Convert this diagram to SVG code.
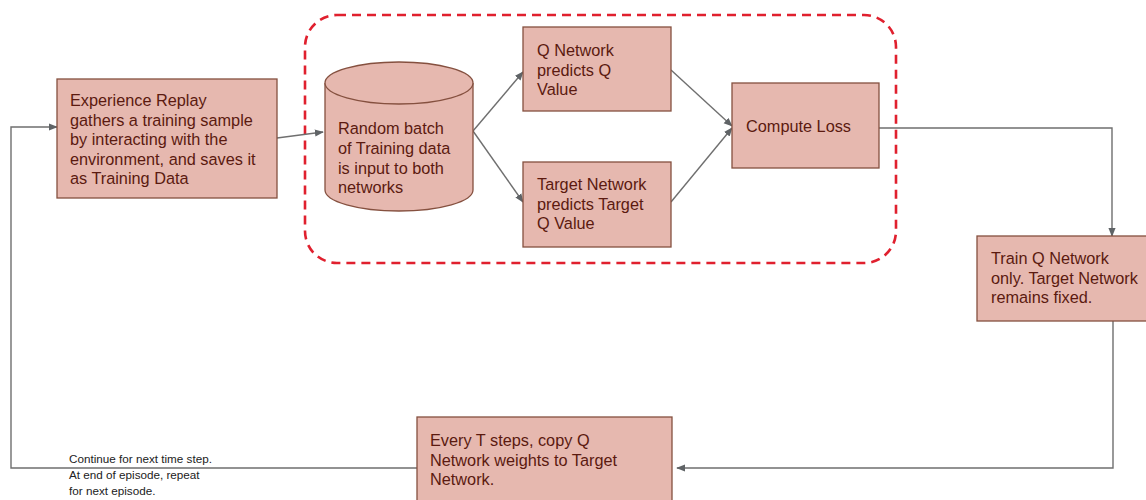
<svg xmlns="http://www.w3.org/2000/svg" width="1146" height="500" viewBox="0 0 1146 500">
<defs>
<style>
.box{fill:#e6b8af;stroke:#85503f;stroke-width:1.3}
.t{font-family:"Liberation Sans",Arial,sans-serif;font-size:16.3px;fill:#5b1a10}
.small{font-family:"Liberation Sans",Arial,sans-serif;font-size:11.7px;fill:#222}
.c{fill:none;stroke:#6f6f6f;stroke-width:1.4}
</style>
<marker id="ah" viewBox="0 0 10 10" refX="9" refY="5" markerWidth="9" markerHeight="9" markerUnits="userSpaceOnUse" orient="auto">
<path d="M0,1 L10,5 L0,9 z" fill="#5f6366"/>
</marker>
</defs>
<rect width="1146" height="500" fill="#ffffff"/>
<rect id="group-boundary" x="305" y="15" width="591" height="248" rx="32" ry="32" fill="none" stroke="#e0202e" stroke-width="2.6" stroke-dasharray="9 6"/>
<g id="connectors">
<path class="c" d="M277,138 L323,132" marker-end="url(#ah)"/>
<path class="c" d="M473,131 L523,72" marker-end="url(#ah)"/>
<path class="c" d="M473,131 L523,202" marker-end="url(#ah)"/>
<path class="c" d="M671,70 L732,126" marker-end="url(#ah)"/>
<path class="c" d="M671,202 L732,128" marker-end="url(#ah)"/>
<path class="c" d="M879,128 L1112,128 L1112,236" marker-end="url(#ah)"/>
<path class="c" d="M1113,321 L1113,468 L677,468" marker-end="url(#ah)"/>
<path class="c" d="M417,468 L11,468 L11,127 L57,127" marker-end="url(#ah)"/>
</g>
<g id="experience-replay">
<rect class="box" x="57" y="79" width="220" height="119"/>
<text class="t"><tspan x="70" y="106">Experience Replay</tspan><tspan x="70" y="125.5">gathers a training sample</tspan><tspan x="70" y="145">by interacting with the</tspan><tspan x="70" y="164.5">environment, and saves it</tspan><tspan x="70" y="184">as Training Data</tspan></text>
</g>
<g id="random-batch">
<path class="box" d="M325,83 L325,190 A74,21 0 0 0 473,190 L473,83 A74,21 0 0 0 325,83 Z"/>
<path class="box" d="M325,83 A74,21 0 0 0 473,83" fill="none"/>
<text class="t"><tspan x="338" y="134">Random batch</tspan><tspan x="338" y="154">of Training data</tspan><tspan x="338" y="173.5">is input to both</tspan><tspan x="338" y="193">networks</tspan></text>
</g>
<g id="q-network">
<rect class="box" x="523" y="27" width="148" height="84"/>
<text class="t"><tspan x="537" y="56">Q Network</tspan><tspan x="537" y="75.5">predicts Q</tspan><tspan x="537" y="95">Value</tspan></text>
</g>
<g id="target-network">
<rect class="box" x="523" y="162" width="148" height="85"/>
<text class="t"><tspan x="537" y="190">Target Network</tspan><tspan x="537" y="209.5">predicts Target</tspan><tspan x="537" y="229">Q Value</tspan></text>
</g>
<g id="compute-loss">
<rect class="box" x="732" y="83" width="147" height="85"/>
<text class="t" x="746" y="132">Compute Loss</text>
</g>
<g id="train-q">
<rect class="box" x="977" y="236" width="175" height="85"/>
<text class="t"><tspan x="991" y="264">Train Q Network</tspan><tspan x="991" y="283.5">only. Target Network</tspan><tspan x="991" y="303">remains fixed.</tspan></text>
</g>
<g id="copy-weights">
<rect class="box" x="417" y="417" width="255" height="90"/>
<text class="t"><tspan x="430" y="446">Every T steps, copy Q</tspan><tspan x="430" y="465.5">Network weights to Target</tspan><tspan x="430" y="485">Network.</tspan></text>
</g>
<g id="loop-note">
<text class="small"><tspan x="69" y="463">Continue for next time step.</tspan><tspan x="69" y="479">At end of episode, repeat</tspan><tspan x="69" y="495">for next episode.</tspan></text>
</g>
</svg>
